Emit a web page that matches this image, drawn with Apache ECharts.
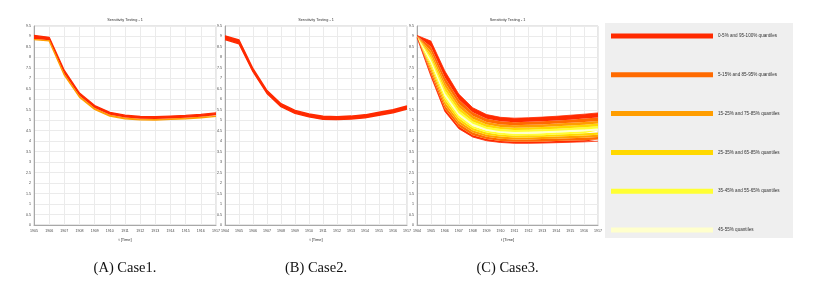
<!DOCTYPE html>
<html><head><meta charset="utf-8">
<script src="https://cdn.jsdelivr.net/npm/echarts@6/dist/echarts.min.js"></script>
<style>html,body{margin:0;padding:0;background:#fff}#c{width:837px;height:285px}</style>
</head><body><div id="c"></div>
<script>
// ---- data ----
const yearsA = ['1905','1906','1907','1908','1909','1910','1911','1912','1913','1914','1915','1916','1917'];
const yearsBC = ['1904','1905','1906','1907','1908','1909','1910','1911','1912','1913','1914','1915','1916','1917'];

// Case 1 band edges
const c1Low  = [8.85, 8.79, 7.15, 6.10, 5.52, 5.20, 5.07, 5.02, 5.01, 5.04, 5.07, 5.12, 5.19];
const c1Mid  = [8.88, 8.82, 7.22, 6.17, 5.58, 5.26, 5.13, 5.07, 5.06, 5.09, 5.12, 5.17, 5.24];
const c1High = [9.05, 8.96, 7.38, 6.30, 5.70, 5.38, 5.24, 5.18, 5.17, 5.20, 5.23, 5.28, 5.35];

// Case 2 band edges
const c2Low  = [8.85, 8.65, 7.32, 6.28, 5.65, 5.33, 5.16, 5.05, 5.03, 5.06, 5.12, 5.24, 5.36, 5.54];
const c2High = [9.03, 8.83, 7.46, 6.42, 5.79, 5.47, 5.30, 5.19, 5.17, 5.20, 5.26, 5.38, 5.50, 5.68];

// Case 3 quantiles
const q0   = [8.95,7.10,5.42,4.60,4.20,4.02,3.94,3.90,3.90,3.91,3.93,3.95,3.97,4.00];
const q5   = [8.96,7.20,5.54,4.70,4.28,4.10,4.01,3.97,3.97,3.98,4.01,4.03,4.05,4.08];
const q15  = [8.97,7.35,5.71,4.85,4.41,4.21,4.12,4.08,4.08,4.10,4.12,4.14,4.17,4.20];
const q25  = [8.97,7.49,5.86,4.98,4.52,4.31,4.22,4.18,4.18,4.20,4.22,4.25,4.27,4.31];
const q35  = [8.98,7.62,6.02,5.11,4.63,4.41,4.31,4.27,4.28,4.29,4.32,4.35,4.38,4.42];
const q45  = [8.99,7.74,6.15,5.23,4.73,4.50,4.40,4.36,4.36,4.38,4.41,4.44,4.47,4.51];
const q55  = [9.00,7.86,6.29,5.34,4.83,4.58,4.48,4.44,4.45,4.47,4.50,4.53,4.56,4.61];
const q65  = [9.00,7.99,6.44,5.47,4.94,4.68,4.58,4.54,4.55,4.57,4.60,4.63,4.67,4.72];
const q75  = [9.01,8.14,6.62,5.62,5.07,4.80,4.68,4.64,4.66,4.68,4.71,4.75,4.79,4.84];
const q85  = [9.02,8.31,6.81,5.79,5.21,4.92,4.80,4.76,4.78,4.80,4.84,4.88,4.92,4.97];
const q95  = [9.03,8.51,7.04,5.99,5.38,5.07,4.95,4.91,4.93,4.95,4.99,5.03,5.08,5.13];
const q100 = [9.05,8.78,7.35,6.25,5.60,5.27,5.14,5.10,5.12,5.15,5.19,5.24,5.29,5.35];

const bandNames = ['0-5% and 95-100% quantiles','5-15% and 85-95% quantiles','15-25% and 75-85% quantiles',
                   '25-35% and 65-85% quantiles','35-45% and 55-65% quantiles','45-55% quantiles'];
const bandColors = ['#ff2a00','#ff6a00','#ff9d00','#ffd800','#ffff33','#ffffcc'];

const titleText = 'Sensitivity Testing - 1';
const axisName = 't [Time]';
const captions = ['(A) Case1.','(B) Case2.','(C) Case3.'];

// ---- build ----
function bandSeries(idx, qs, bandIdx, edgeW) {
  const stack = 'st' + idx;
  const out = [{
    type:'line', xAxisIndex:idx, yAxisIndex:idx, stack, data:qs[0], symbol:'none', silent:true,
    name:'_base'+idx, lineStyle:{width:edgeW, color:bandColors[bandIdx[0]]}, z:3
  }];
  for (let i = 1; i < qs.length; i++) {
    const b = bandIdx[i-1];
    const diff = qs[i].map((v,j) => +(v - qs[i-1][j]).toFixed(4));
    const last = i === qs.length - 1;
    out.push({
      type:'line', xAxisIndex:idx, yAxisIndex:idx, stack, data:diff, symbol:'none', silent:true,
      name:bandNames[b], itemStyle:{color:bandColors[b]},
      lineStyle:{width:last?edgeW:0, opacity:last?1:0, color:bandColors[b]},
      areaStyle:{color:bandColors[b], opacity:1}, z:2
    });
  }
  return out;
}

const grids = [
  {left:34, top:26, width:182, height:199},
  {left:225, top:26, width:182, height:199},
  {left:417, top:26, width:181, height:199}
].map(g => Object.assign(g, {show:true, borderColor:'#cfcfcf', borderWidth:1, backgroundColor:'#fff'}));

const catData = [yearsA, yearsBC, yearsBC];
const xAxes = catData.map((d,i) => ({
  type:'category', gridIndex:i, data:d, boundaryGap:false,
  axisLine:{lineStyle:{color:'#a8a8a8', width:1}}, axisTick:{show:false},
  axisLabel:{fontSize:3.6, color:'#444', interval:0, margin:4, fontFamily:'Liberation Sans'},
  splitLine:{show:true, lineStyle:{color:'#ebebeb', width:1}},
  name:axisName, nameLocation:'middle', nameGap:13,
  nameTextStyle:{fontSize:4, color:'#333', fontFamily:'Liberation Sans'}
}));
const yAxes = [0,1,2].map(i => ({
  type:'value', gridIndex:i, min:0, max:9.5, interval:0.5,
  axisLine:{show:true, lineStyle:{color:'#a8a8a8', width:1}}, axisTick:{show:false},
  axisLabel:{fontSize:3.6, color:'#444', margin:3, fontFamily:'Liberation Sans'},
  splitLine:{show:true, lineStyle:{color:'#ebebeb', width:1}}
}));

const series = [].concat(
  bandSeries(0, [c1Low, c1Mid, c1High], [2, 0], 1.3),
  bandSeries(1, [c2Low, c2High], [0], 1.4),
  bandSeries(2, [q0,q5,q15,q25,q35,q45,q55,q65,q75,q85,q95,q100], [0,1,2,3,4,5,4,3,2,1,0], 0.8)
);

const graphics = [
  {type:'rect', shape:{x:605, y:23, width:188, height:215}, style:{fill:'#efefef'}, z:-10, silent:true}
];
grids.forEach((g,i) => {
  graphics.push({type:'text', x:g.left + g.width/2, y:20, silent:true,
    style:{text:titleText, fontSize:3.8, fill:'#333', align:'center', verticalAlign:'middle', fontFamily:'Liberation Sans'}});
  graphics.push({type:'text', x:g.left + g.width/2, y:268, silent:true,
    style:{text:captions[i], fontSize:14.5, fill:'#111', align:'center', verticalAlign:'middle', fontFamily:'Liberation Serif'}});
});

const chart = echarts.init(document.getElementById('c'), null, {renderer:'canvas'});
chart.setOption({
  animation:false,
  backgroundColor:'#fff',
  grid:grids, xAxis:xAxes, yAxis:yAxes, series,
  legend:{
    data:bandNames, orient:'vertical', left:606, top:28, itemWidth:102, itemHeight:5, itemGap:32.8,
    icon:'rect', selectedMode:false, z:10,
    textStyle:{fontSize:4.6, color:'#333', fontFamily:'Liberation Sans', padding:[0,0,0,0], lineHeight:6}
  },
  graphic:graphics
});
</script></body></html>
